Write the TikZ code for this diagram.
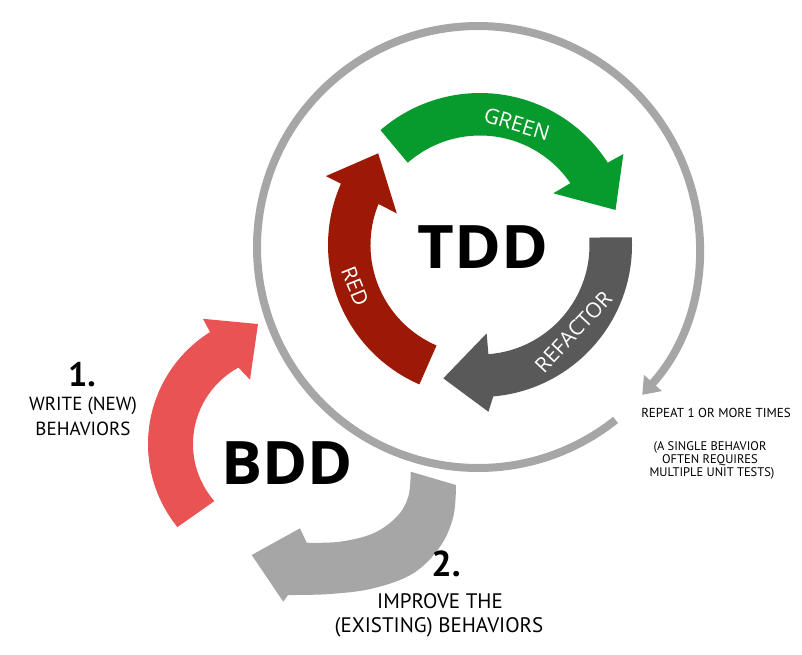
\documentclass[tikz,border=0pt]{standalone}
\usepackage{fontspec}
\setmainfont{Open Sans}
\newfontfamily\handfont{PT Sans}
\usetikzlibrary{arrows.meta}

\definecolor{greenarr}{RGB}{7,154,44}
\definecolor{redarr}{RGB}{155,25,5}
\definecolor{refarr}{RGB}{89,89,89}
\definecolor{pinkarr}{RGB}{233,83,83}
\definecolor{loopgray}{RGB}{166,166,166}

\tikzset{
  bigtitle/.style={font=\bfseries\fontsize{60}{60}\selectfont, inner sep=0pt},
  arclabel/.style={text=white, font=\fontsize{21}{21}\selectfont, inner sep=0pt},
  hand/.style={font=\handfont\fontsize{#1}{#1}\selectfont, inner sep=0pt},
  handnum/.style={font=\handfont\bfseries\fontsize{#1}{#1}\selectfont, inner sep=0pt},
}

\begin{document}
\begin{tikzpicture}[x=1pt,y=1pt]
\useasboundingbox (0,0) rectangle (802,-654);

% outer repeat loop around the TDD cycle
\draw[line width=8pt, loopgray, -{Triangle[length=16pt,width=23pt]}]
  (478,-247) ++(-51.5:221) arc[start angle=-51.5, end angle=-402, radius=221];

% TDD cycle: three curved arrows
\begin{scope}[shift={(480,-245)}]
  \fill[greenarr] (130.9:152) arc[start angle=130.9, end angle=32.8, radius=152]
    -- (32.4:169.8) -- (14.5:140) -- (35.2:89.7) -- (34.4:109.5)
    arc[start angle=34.4, end angle=131.3, radius=109.5] -- cycle;
  \fill[refarr] (2.9:152) arc[start angle=2.9, end angle=-85, radius=152]
    -- (-87.1:167) -- (-105.4:138.3) -- (-85.7:88.6) -- (-85.6:109.5)
    arc[start angle=-85.6, end angle=3.9, radius=109.5] -- cycle;
  \fill[redarr] (246.5:152) arc[start angle=246.5, end angle=156.2, radius=152]
    -- (155.9:168.8) -- (138:137) -- (159.2:89) -- (158:109.5)
    arc[start angle=158, end angle=246.6, radius=109.5] -- cycle;

  \node[arclabel, rotate=-17] (green) at (73:126.5) {GREEN};
  \node[arclabel, rotate=47] (refactor) at (-42.9:127.4) {REFACTOR};
  \node[arclabel, rotate=-68] (red) at (198.2:131.5) {RED};
\end{scope}

% BDD step 1: write new behaviours
\begin{scope}[shift={(280,-444)}]
  \fill[pinkarr] (219:132) arc[start angle=219, end angle=122, radius=132]
    -- (121.6:147) -- (100.4:122) -- (115:71) -- (118.5:87)
    arc[start angle=118.5, end angle=221, radius=87] -- cycle;
\end{scope}

% BDD step 2: improve existing behaviours
\fill[loopgray] (410.7,-471.7) -- (456,-485)
  -- plot[smooth, tension=0.6] coordinates {(456,-485) (453.3,-516.7) (440,-546.7) (413.3,-573.3) (373.3,-588.3) (330,-594) (288,-595)}
  -- (283.3,-601.7) -- (251.7,-555) -- (300,-528.3) -- (306.7,-542.7)
  -- plot[smooth, tension=0.6] coordinates {(306.7,-542.7) (340,-541.7) (373.3,-533.3) (396.7,-516.7) (408.3,-496.7) (410.7,-471.7)}
  -- cycle;

% titles
\node[bigtitle] (tdd) at (483,-247) {\scalebox{1.06}[1]{TDD}};
\node[bigtitle] (bdd) at (287,-463) {\scalebox{1.02}[1]{BDD}};

% step labels
\node[handnum=34] (one) at (82,-375) {1.};
\node[hand=19] (write1) at (83,-406) {WRITE (NEW)};
\node[hand=19] (write2) at (83,-429) {BEHAVIORS};

\node[handnum=36] (two) at (446,-564) {2.};
\node[hand=21] (impr1) at (440,-601) {IMPROVE THE};
\node[hand=21] (impr2) at (439,-627) {(EXISTING) BEHAVIORS};

\node[hand=13] (rep1) at (716,-413) {REPEAT 1 OR MORE TIMES};
\node[hand=12.5] (rep2) at (710,-447) {(A SINGLE BEHAVIOR};
\node[hand=12.5] (rep3) at (710,-460) {OFTEN REQUIRES};
\node[hand=12.5] (rep4) at (712,-473) {MULTIPLE UNIT TESTS)};
\end{tikzpicture}
\end{document}
